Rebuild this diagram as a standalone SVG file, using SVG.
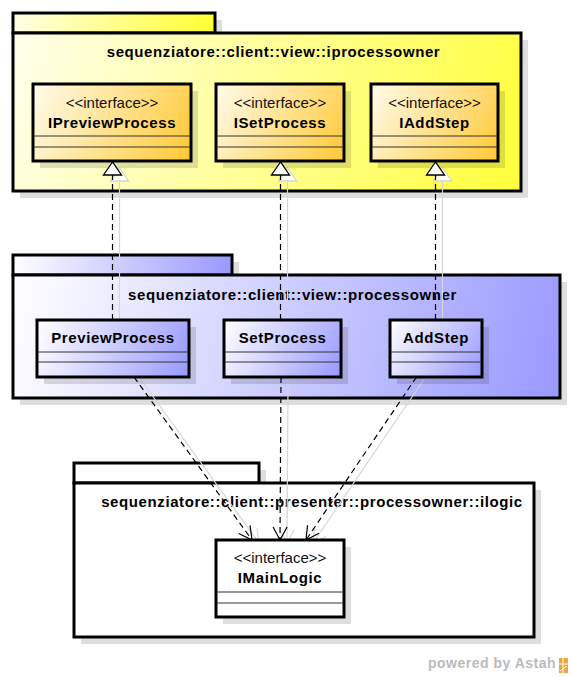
<svg xmlns="http://www.w3.org/2000/svg" width="573" height="677" viewBox="0 0 573 677">
<style>
.pkg{stroke:#000;stroke-width:3}
.box{stroke:#000;stroke-width:3}
.sh{fill:#000;fill-opacity:0.13;stroke:none}
.sep{stroke:#333;stroke-width:1}
.title{font-family:"Liberation Sans",Arial,sans-serif;font-size:15px;font-weight:bold;letter-spacing:0.6px;text-anchor:middle;fill:#000}
.name{font-family:"Liberation Sans",Arial,sans-serif;font-size:15px;font-weight:bold;letter-spacing:0.6px;text-anchor:middle;fill:#000}
.stereo{font-family:"Liberation Sans",Arial,sans-serif;font-size:15px;text-anchor:middle;fill:#111}
.dash{fill:none;stroke:#000;stroke-width:1.2;stroke-dasharray:6,4}
.shline{fill:none;stroke:#d6d6d6;stroke-width:1.2}
.wm{font-family:"Liberation Sans",Arial,sans-serif;font-size:14px;font-weight:bold;letter-spacing:0.5px;fill:#bbb}
</style>
<defs>
<linearGradient id="gTopTab" gradientUnits="userSpaceOnUse" x1="13" y1="13" x2="215" y2="33"><stop offset="0" stop-color="#ffffe8"/><stop offset="1" stop-color="#ffff30"/></linearGradient>
<linearGradient id="gTopBody" gradientUnits="userSpaceOnUse" x1="13" y1="33" x2="560" y2="191"><stop offset="0" stop-color="#ffffec"/><stop offset="1" stop-color="#ffff30"/></linearGradient>
<linearGradient id="gBlueTab" gradientUnits="userSpaceOnUse" x1="13" y1="255" x2="232" y2="275"><stop offset="0" stop-color="#ffffff"/><stop offset="1" stop-color="#9999ff"/></linearGradient>
<linearGradient id="gBlueBody" gradientUnits="userSpaceOnUse" x1="13" y1="275" x2="560" y2="398"><stop offset="0" stop-color="#ffffff"/><stop offset="1" stop-color="#9999ff"/></linearGradient>
<linearGradient id="gY1" gradientUnits="userSpaceOnUse" x1="33" y1="84" x2="191" y2="161"><stop offset="0" stop-color="#fffcec"/><stop offset="1" stop-color="#ffc835"/></linearGradient>
<linearGradient id="gY2" gradientUnits="userSpaceOnUse" x1="216" y1="84" x2="344" y2="161"><stop offset="0" stop-color="#fffcec"/><stop offset="1" stop-color="#ffc835"/></linearGradient>
<linearGradient id="gY3" gradientUnits="userSpaceOnUse" x1="371" y1="84" x2="498" y2="161"><stop offset="0" stop-color="#fffcec"/><stop offset="1" stop-color="#ffc835"/></linearGradient>
<linearGradient id="gB1" gradientUnits="userSpaceOnUse" x1="37" y1="320" x2="189" y2="377"><stop offset="0" stop-color="#ffffff"/><stop offset="1" stop-color="#9999ff"/></linearGradient>
<linearGradient id="gB2" gradientUnits="userSpaceOnUse" x1="224" y1="320" x2="341" y2="377"><stop offset="0" stop-color="#ffffff"/><stop offset="1" stop-color="#9999ff"/></linearGradient>
<linearGradient id="gB3" gradientUnits="userSpaceOnUse" x1="390" y1="320" x2="482" y2="377"><stop offset="0" stop-color="#ffffff"/><stop offset="1" stop-color="#9999ff"/></linearGradient>
<marker id="tri" markerUnits="userSpaceOnUse" markerWidth="24" markerHeight="24" viewBox="-15 -12 18 24" refX="0" refY="0" orient="auto" overflow="visible">
<path d="M0,0 L-13,-9 L-13,9 Z" fill="#fff" stroke="#000" stroke-width="1.3"/>
</marker>
<marker id="triSh" markerUnits="userSpaceOnUse" markerWidth="24" markerHeight="24" viewBox="-15 -12 18 24" refX="0" refY="0" orient="auto" overflow="visible">
<path d="M0,0 L-13,-9 L-13,9 Z" fill="#fffff4" stroke="#d6d6d6" stroke-width="1.3"/>
</marker>
<marker id="open" markerUnits="userSpaceOnUse" markerWidth="24" markerHeight="24" viewBox="-15 -12 18 24" refX="0" refY="0" orient="auto" overflow="visible">
<path d="M-13,-7 L0,0 L-13,7" fill="none" stroke="#000" stroke-width="1.2"/>
</marker>
<marker id="openSh" markerUnits="userSpaceOnUse" markerWidth="24" markerHeight="24" viewBox="-15 -12 18 24" refX="0" refY="0" orient="auto" overflow="visible">
<path d="M-13,-7 L0,0 L-13,7" fill="none" stroke="#d6d6d6" stroke-width="1.2"/>
</marker>
</defs>
<rect width="573" height="677" fill="#fff"/>

<g id="pkg-iprocessowner">
<rect class="sh" x="20" y="20" width="202" height="20"/>
<rect class="sh" x="20" y="40" width="508" height="158"/>
<rect class="pkg" x="13" y="13" width="202" height="20" fill="url(#gTopTab)"/>
<rect class="pkg" x="13" y="33" width="508" height="158" fill="url(#gTopBody)"/>
<text class="title" x="273.5" y="57">sequenziatore::client::view::iprocessowner</text>
</g>

<g id="pkg-processowner">
<rect class="sh" x="20" y="262" width="219" height="20"/>
<rect class="sh" x="20" y="282" width="547" height="123"/>
<rect class="pkg" x="13" y="255" width="219" height="20" fill="url(#gBlueTab)"/>
<rect class="pkg" x="13" y="275" width="547" height="123" fill="url(#gBlueBody)"/>
<text class="title" x="292.5" y="299.5">sequenziatore::client::view::processowner</text>
</g>

<g id="pkg-ilogic">
<rect class="sh" x="81" y="470" width="185" height="20"/>
<rect class="sh" x="81" y="490" width="460" height="154"/>
<rect class="pkg" x="74" y="463" width="185" height="20" fill="#fff"/>
<rect class="pkg" x="74" y="483" width="460" height="154" fill="#fff"/>
<text class="title" x="312" y="506.5">sequenziatore::client::presenter::processowner::ilogic</text>
</g>

<g id="connector-shadows">
<line class="shline" x1="119.5" y1="320" x2="119.5" y2="168" marker-end="url(#triSh)"/>
<line class="shline" x1="287.5" y1="320" x2="287.5" y2="168" marker-end="url(#triSh)"/>
<line class="shline" x1="442.5" y1="320" x2="442.5" y2="168" marker-end="url(#triSh)"/>
<line class="shline" x1="141" y1="380" x2="259" y2="543" marker-end="url(#openSh)"/>
<line class="shline" x1="288" y1="380" x2="287" y2="543" marker-end="url(#openSh)"/>
<line class="shline" x1="423.5" y1="380" x2="313" y2="543" marker-end="url(#openSh)"/>
</g>

<g id="IPreviewProcess">
<rect class="sh" x="40" y="91" width="158" height="77"/>
<rect class="box" x="33" y="84" width="158" height="77" fill="url(#gY1)"/>
<line class="sep" x1="34" y1="136" x2="190" y2="136"/>
<line class="sep" x1="34" y1="147" x2="190" y2="147"/>
<text class="stereo" x="112" y="107.5">&lt;&lt;interface&gt;&gt;</text>
<text class="name" x="112" y="127.5">IPreviewProcess</text>
</g>

<g id="ISetProcess">
<rect class="sh" x="223" y="91" width="128" height="77"/>
<rect class="box" x="216" y="84" width="128" height="77" fill="url(#gY2)"/>
<line class="sep" x1="217" y1="136" x2="343" y2="136"/>
<line class="sep" x1="217" y1="147" x2="343" y2="147"/>
<text class="stereo" x="280" y="107.5">&lt;&lt;interface&gt;&gt;</text>
<text class="name" x="280" y="127.5">ISetProcess</text>
</g>

<g id="IAddStep">
<rect class="sh" x="378" y="91" width="127" height="77"/>
<rect class="box" x="371" y="84" width="127" height="77" fill="url(#gY3)"/>
<line class="sep" x1="372" y1="136" x2="497" y2="136"/>
<line class="sep" x1="372" y1="147" x2="497" y2="147"/>
<text class="stereo" x="434.5" y="107.5">&lt;&lt;interface&gt;&gt;</text>
<text class="name" x="434.5" y="127.5">IAddStep</text>
</g>

<g id="PreviewProcess">
<rect class="sh" x="44" y="327" width="152" height="57"/>
<rect class="box" x="37" y="320" width="152" height="57" fill="url(#gB1)"/>
<line class="sep" x1="38" y1="352" x2="188" y2="352"/>
<line class="sep" x1="38" y1="362" x2="188" y2="362"/>
<text class="name" x="113" y="342.5">PreviewProcess</text>
</g>

<g id="SetProcess">
<rect class="sh" x="231" y="327" width="117" height="57"/>
<rect class="box" x="224" y="320" width="117" height="57" fill="url(#gB2)"/>
<line class="sep" x1="225" y1="352" x2="340" y2="352"/>
<line class="sep" x1="225" y1="362" x2="340" y2="362"/>
<text class="name" x="282.5" y="342.5">SetProcess</text>
</g>

<g id="AddStep">
<rect class="sh" x="397" y="327" width="92" height="57"/>
<rect class="box" x="390" y="320" width="92" height="57" fill="url(#gB3)"/>
<line class="sep" x1="391" y1="352" x2="481" y2="352"/>
<line class="sep" x1="391" y1="362" x2="481" y2="362"/>
<text class="name" x="436" y="342.5">AddStep</text>
</g>

<g id="IMainLogic">
<rect class="sh" x="223" y="547" width="128" height="77"/>
<rect class="box" x="216" y="540" width="128" height="77" fill="#fff"/>
<line class="sep" x1="217" y1="592" x2="343" y2="592"/>
<line class="sep" x1="217" y1="603" x2="343" y2="603"/>
<text class="stereo" x="280" y="563">&lt;&lt;interface&gt;&gt;</text>
<text class="name" x="280" y="583">IMainLogic</text>
</g>

<g id="connectors">
<line class="dash" x1="112.5" y1="320" x2="112.5" y2="162" marker-end="url(#tri)"/>
<line class="dash" x1="280.5" y1="320" x2="280.5" y2="162" marker-end="url(#tri)"/>
<line class="dash" x1="435.5" y1="320" x2="435.5" y2="162" marker-end="url(#tri)"/>
<line class="dash" x1="134" y1="377" x2="252" y2="540" marker-end="url(#open)"/>
<line class="dash" x1="281" y1="377" x2="280" y2="540" marker-end="url(#open)"/>
<line class="dash" x1="416.5" y1="377" x2="306" y2="540" marker-end="url(#open)"/>
</g>

<g id="watermark">
<text class="wm" x="428" y="668">powered by Astah</text>
<rect x="559" y="658" width="9" height="15" fill="#f2a43a"/>
<path d="M559,664 L568,664 M563,658 L563,673 M560,671 L567,666" stroke="#fff" stroke-width="1" fill="none"/>
</g>
</svg>
